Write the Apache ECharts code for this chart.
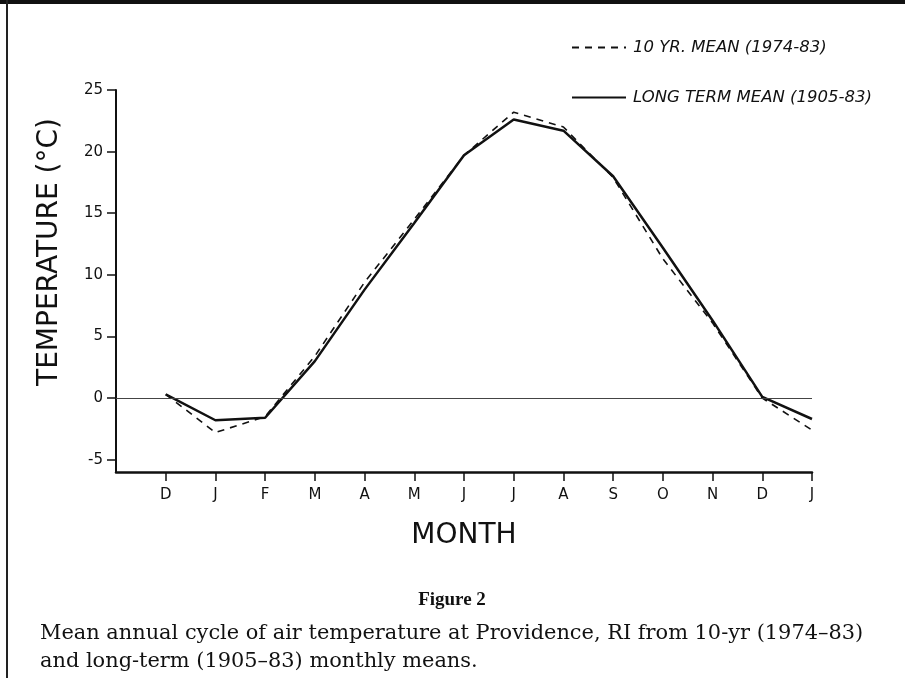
<!DOCTYPE html>
<html>
<head>
<meta charset="utf-8">
<script src="https://cdn.jsdelivr.net/npm/echarts@6/dist/echarts.min.js"></script>
<style>
html,body{margin:0;padding:0;background:#fff;}
#chart{width:905px;height:678px;}
</style>
</head>
<body>
<div id="chart"></div>
<script>
// Month labels along the x axis (index 0..13)
var monthLabels = ['D','J','F','M','A','M','J','J','A','S','O','N','D','J'];
// 10-yr mean (1974-83), degrees C
var tenYearMean = [0.3, -2.8, -1.5, 3.4, 9.4, 14.5, 19.7, 23.2, 22.0, 17.9, 11.3, 6.1, 0.0, -2.6];
// Long-term mean (1905-83), degrees C
var longTermMean = [0.3, -1.8, -1.6, 3.0, 8.8, 14.2, 19.7, 22.6, 21.7, 18.0, 12.2, 6.3, 0.1, -1.7];
// Axis ticks
var yTicks = [-5, 0, 5, 10, 15, 20, 25];
var xTicks = [0, 1, 2, 3, 4, 5, 6, 7, 8, 9, 10, 11, 12, 13];
var seriesNames = ['10 YR. MEAN (1974-83)', 'LONG TERM MEAN (1905-83)'];

var ink = '#111';
var chart = echarts.init(document.getElementById('chart'), null, {renderer: 'canvas'});

function pairs(vals) {
  return vals.map(function (v, i) { return [xTicks[i], v]; });
}

chart.setOption({
  animation: false,
  backgroundColor: '#fff',
  grid: {left: 116, right: 93, top: 90, bottom: 206},
  legend: {
    orient: 'vertical',
    left: 566,
    top: 34,
    itemWidth: 54,
    itemHeight: 14,
    itemGap: 33,
    data: seriesNames,
    itemStyle: {opacity: 0},
    textStyle: {fontFamily: 'DejaVu Sans', fontStyle: 'italic', fontSize: 16.5, color: ink, padding: [0, 0, 0, 2]}
  },
  xAxis: {
    type: 'value',
    min: -1,
    max: 13,
    interval: 1,
    splitLine: {show: false},
    axisLine: {onZero: false, lineStyle: {color: ink, width: 2.5}},
    axisTick: {customValues: xTicks, length: 9, lineStyle: {color: ink, width: 1.5}},
    axisLabel: {
      customValues: xTicks,
      margin: 16,
      fontFamily: 'DejaVu Sans',
      fontSize: 15,
      color: ink,
      formatter: function (v) { return monthLabels[v] || ''; }
    },
    name: 'MONTH',
    nameLocation: 'middle',
    nameGap: 50,
    nameTextStyle: {fontFamily: 'DejaVu Sans', fontSize: 28, color: ink}
  },
  yAxis: {
    type: 'value',
    min: -6,
    max: 25,
    splitLine: {show: false},
    axisLine: {show: true, onZero: false, lineStyle: {color: ink, width: 2}},
    axisTick: {show: true, customValues: yTicks, length: 9, lineStyle: {color: ink, width: 1.5}},
    axisLabel: {customValues: yTicks, margin: 13, fontFamily: 'DejaVu Sans', fontSize: 15, color: ink}
  },
  series: [
    {
      name: seriesNames[0],
      type: 'line',
      data: pairs(tenYearMean),
      symbol: 'none',
      z: 2,
      lineStyle: {color: ink, width: 1.6, type: [7, 6]},
      itemStyle: {color: ink}
    },
    {
      name: seriesNames[1],
      type: 'line',
      data: pairs(longTermMean),
      symbol: 'none',
      z: 3,
      lineStyle: {color: ink, width: 2.5, type: 'solid'},
      itemStyle: {color: ink},
      markLine: {
        silent: true,
        symbol: ['none', 'none'],
        label: {show: false},
        lineStyle: {color: '#444', width: 1, type: 'solid'},
        data: [{yAxis: 0}]
      }
    }
  ],
  graphic: [
    {type: 'line', shape: {x1: 0, y1: 2, x2: 905, y2: 2}, style: {stroke: ink, lineWidth: 4}},
    {type: 'line', shape: {x1: 7, y1: 0, x2: 7, y2: 678}, style: {stroke: '#222', lineWidth: 2}},
    {
      type: 'text', x: 50, y: 252, rotation: Math.PI / 2,
      style: {text: 'TEMPERATURE (°C)', font: '28px "DejaVu Sans"', fill: ink, textAlign: 'center', textVerticalAlign: 'middle'}
    },
    {
      type: 'text', x: 452, y: 600,
      style: {text: 'Figure 2', font: 'bold 19px "Liberation Serif"', fill: ink, textAlign: 'center', textVerticalAlign: 'middle'}
    },
    {
      type: 'text', x: 40, y: 634,
      style: {text: 'Mean annual cycle of air temperature at Providence, RI from 10-yr (1974–83)', font: '20.9px "DejaVu Serif"', fill: ink, textAlign: 'left', textVerticalAlign: 'middle'}
    },
    {
      type: 'text', x: 40, y: 662,
      style: {text: 'and long-term (1905–83) monthly means.', font: '20.9px "DejaVu Serif"', fill: ink, textAlign: 'left', textVerticalAlign: 'middle'}
    }
  ]
});
</script>
</body>
</html>
